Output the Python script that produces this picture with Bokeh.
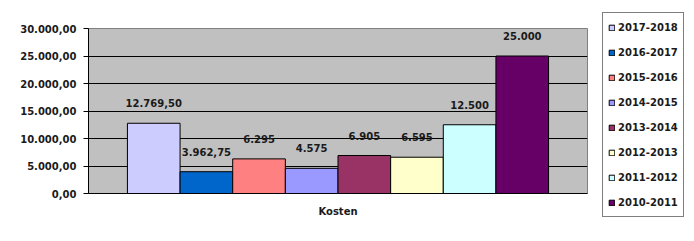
from bokeh.plotting import figure
from bokeh.models import (ColumnDataSource, FactorRange, Range1d, Legend, LegendItem,
                          SingleIntervalTicker, CustomJSTickFormatter)
from bokeh.core.properties import value
from bokeh.transform import dodge
from bokeh.embed import file_html
from bokeh.resources import INLINE

category = "Kosten"
seasons = ["2017-2018", "2016-2017", "2015-2016", "2014-2015",
           "2013-2014", "2012-2013", "2011-2012", "2010-2011"]
costs = [12769.50, 3962.75, 6295, 4575, 6905, 6595, 12500, 25000]
colors = ["#CCCCFF", "#0066CC", "#FF8080", "#9999FF",
          "#993366", "#FFFFCC", "#CCFFFF", "#660066"]


def de_fmt(v):
    if float(v).is_integer():
        return f"{int(v):,}".replace(",", ".")
    s = f"{v:,.2f}"
    return s.replace(",", "X").replace(".", ",").replace("X", ".")


FONT = "DejaVu Sans"
p = figure(frame_width=499, frame_height=165, output_backend="svg", toolbar_location=None,
           x_range=FactorRange(category), y_range=Range1d(0, 30000),
           min_border_left=88, min_border_right=0, min_border_top=28,
           min_border_bottom=48)
p.background_fill_color = "#C0C0C0"
p.border_fill_color = "white"
p.outline_line_color = "#808080"

n = len(seasons)
bw = 0.1055
items = []
for i in range(n):
    src = ColumnDataSource(dict(x=[category], y=[costs[i]], lab=[de_fmt(costs[i])]))
    off = (i - (n - 1) / 2) * bw
    r = p.vbar(x=dodge("x", off, range=p.x_range), top="y", width=bw, source=src,
               fill_color=colors[i], line_color="black", line_width=1)
    p.text(x=dodge("x", off, range=p.x_range), y="y", text="lab", source=src,
           text_align="center", text_baseline="middle", y_offset=-20,
           text_font=value(FONT), text_font_style="bold", text_font_size="10px",
           text_color="#1a1a1a")
    items.append(LegendItem(label=seasons[i], renderers=[r]))

p.xgrid.grid_line_color = None
p.ygrid.grid_line_color = "black"
p.ygrid.grid_line_width = 1
p.yaxis.ticker = SingleIntervalTicker(interval=5000)
p.yaxis.formatter = CustomJSTickFormatter(code="""
const s = tick.toFixed(2).split('.');
return s[0].replace(/\\B(?=(\\d{3})+(?!\\d))/g, '.') + ',' + s[1];
""")
for ax in (p.xaxis, p.yaxis):
    ax.axis_line_color = "black"
    ax.major_label_text_font = FONT
    ax.major_label_text_font_style = "bold"
    ax.major_label_text_font_size = "10px"
    ax.major_label_text_color = "#1a1a1a"
    ax.minor_tick_line_color = None
p.yaxis.major_tick_out = 5
p.yaxis.major_tick_in = 0
p.yaxis.major_tick_line_color = "black"
p.yaxis.major_label_standoff = 7
p.xaxis.major_tick_out = 0
p.xaxis.major_tick_in = 0
p.xaxis.major_label_standoff = 12

legend = Legend(items=items, location=(15, -24), margin=0, padding=5,
                spacing=7, label_height=18, glyph_width=7, glyph_height=7,
                label_standoff=3, border_line_color="black", border_line_width=1,
                background_fill_color="white", background_fill_alpha=1,
                label_text_font=FONT, label_text_font_style="bold",
                label_text_font_size="10px", label_text_color="#1a1a1a")
p.add_layout(legend, "right")

open("out.html", "w").write(file_html(p, INLINE))
